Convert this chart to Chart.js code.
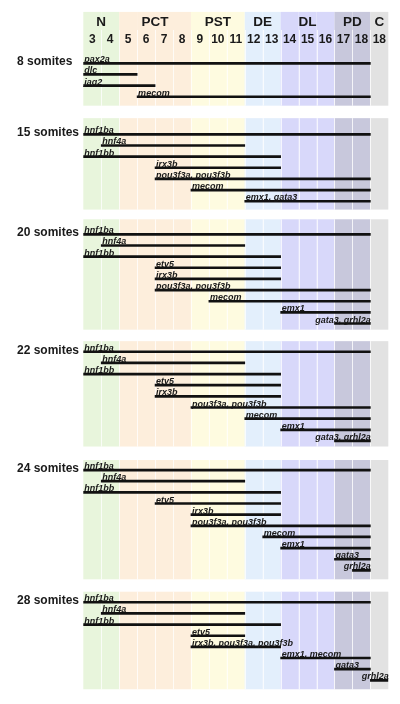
<!DOCTYPE html>
<html>
<head>
<meta charset="utf-8">
<script src="https://cdn.jsdelivr.net/npm/chart.js@4/dist/chart.umd.min.js"></script>
<style>
  html, body { margin:0; padding:0; background:#fff; }
  #wrap { position:relative; width:400px; height:704px; }
</style>
</head>
<body>
<div id="wrap"><canvas id="c" width="400" height="704"></canvas></div>
<script>
// segment groups across the top, and the somite column under each
var GROUPS = ['N','PCT','PST','DE','DL','PD','C'];
var GROUP_SPAN = [2,4,3,2,3,2,1];
var GROUP_COLOR = ['#e8f5dc','#fdeedc','#fefbe0','#e3effc','#d8d8fa','#c8c8dc','#e2e2e2'];
var COLS = ['3','4','5','6','7','8','9','10','11','12','13','14','15','16','17','18','18'];

var STAGES = ['8 somites','15 somites','20 somites','22 somites','24 somites','28 somites'];

// gene name, first column boundary, last column boundary
var S8_GENES = ['pax2a','dlc','jag2','mecom'];
var S8_FROM  = [0,0,0,3];
var S8_TO    = [16,3,4,16];

var S15_GENES = ['hnf1ba','hnf4a','hnf1bb','irx3b','pou3f3a, pou3f3b','mecom','emx1, gata3'];
var S15_FROM  = [0,1,0,4,4,6,9];
var S15_TO    = [16,9,11,11,16,16,16];

var S20_GENES = ['hnf1ba','hnf4a','hnf1bb','etv5','irx3b','pou3f3a, pou3f3b','mecom','emx1','gata3, grhl2a'];
var S20_FROM  = [0,1,0,4,4,4,7,11,14];
var S20_TO    = [16,9,11,11,11,16,16,16,16];

var S22_GENES = ['hnf1ba','hnf4a','hnf1bb','etv5','irx3b','pou3f3a, pou3f3b','mecom','emx1','gata3, grhl2a'];
var S22_FROM  = [0,1,0,4,4,6,9,11,14];
var S22_TO    = [16,9,11,11,11,16,16,16,16];

var S24_GENES = ['hnf1ba','hnf4a','hnf1bb','etv5','irx3b','pou3f3a, pou3f3b','mecom','emx1','gata3','grhl2a'];
var S24_FROM  = [0,1,0,4,6,6,10,11,14,15];
var S24_TO    = [16,9,11,11,11,16,16,16,16,16];

var S28_GENES = ['hnf1ba','hnf4a','hnf1bb','etv5','irx3b, pou3f3a, pou3f3b','emx1, mecom','gata3','grhl2a'];
var S28_FROM  = [0,1,0,6,6,11,14,16];
var S28_TO    = [16,9,11,9,11,16,16,17];

var GENES = [S8_GENES,S15_GENES,S20_GENES,S22_GENES,S24_GENES,S28_GENES];
var FROM  = [S8_FROM,S15_FROM,S20_FROM,S22_FROM,S24_FROM,S28_FROM];
var TO    = [S8_TO,S15_TO,S20_TO,S22_TO,S24_TO,S28_TO];

// layout, in row units
var ROW_PX = 11.15, FIRST_Y = 63.3;
var GAP = [0, 2.37, 1.97, 1.53, 1.61, 1.86];
var PAD_TOP = [1.37, 1.45, 1.35, 0.95, 0.9, 0.95];
var PAD_BOT = [0.8, 0.75, 0.55, 0.5, 0.8, 0.8];
var HEAD_ROW = 1.62;
var FONT = '"Liberation Sans", Arial, Helvetica, sans-serif';

var colColor = [];
GROUPS.forEach(function(g, i){ for (var k=0;k<GROUP_SPAN[i];k++) colColor.push(GROUP_COLOR[i]); });

var rows = [], panels = [], r = 0;
GENES.forEach(function(list, s){
  r += GAP[s];
  var first = r;
  list.forEach(function(name, i){
    rows.push({x:[FROM[s][i], TO[s][i]], y:r, name:name, to:TO[s][i]});
    r += 1;
  });
  panels.push({first:first, last:r-1, label:STAGES[s], top:first-PAD_TOP[s], bot:r-1+PAD_BOT[s]});
});

var yMin = -FIRST_Y/ROW_PX, yMax = yMin + 704/ROW_PX;

var panelPlugin = {
  id:'panels',
  beforeDatasetsDraw:function(ch){
    var ctx = ch.ctx, xs = ch.scales.x, ys = ch.scales.y;
    function colRect(c, y0, y1, fill){
      var a = xs.getPixelForValue(c), b = xs.getPixelForValue(c+1);
      ctx.fillStyle = fill; ctx.fillRect(a, y0, b-a, y1-y0);
    }
    function seps(y0, y1){
      ctx.strokeStyle = 'rgba(255,255,255,0.75)'; ctx.lineWidth = 1;
      for (var c=1;c<COLS.length;c++){
        var x = Math.round(xs.getPixelForValue(c)) + 0.5;
        ctx.beginPath(); ctx.moveTo(x, y0); ctx.lineTo(x, y1); ctx.stroke();
      }
    }
    ctx.save();
    // header
    var p0 = panels[0];
    var hTop = ys.getPixelForValue(p0.top - 2*HEAD_ROW), hMid = ys.getPixelForValue(p0.top - HEAD_ROW), hBot = ys.getPixelForValue(p0.top);
    for (var c=0;c<COLS.length;c++) colRect(c, hTop, hBot, colColor[c]);
    seps(hMid, hBot);
    ctx.fillStyle = '#1a1a1a'; ctx.textAlign = 'center'; ctx.textBaseline = 'middle';
    ctx.font = 'bold 13.5px ' + FONT;
    var c0 = 0;
    GROUPS.forEach(function(g, i){
      var cx = (xs.getPixelForValue(c0) + xs.getPixelForValue(c0+GROUP_SPAN[i]))/2;
      ctx.fillText(g, cx, (hTop+hMid)/2 + 1);
      c0 += GROUP_SPAN[i];
    });
    ctx.font = 'bold 12px ' + FONT;
    COLS.forEach(function(lab, c){
      ctx.fillText(lab, xs.getPixelForValue(c+0.5), (hMid+hBot)/2 + 1);
    });
    // panels
    panels.forEach(function(p){
      var y0 = ys.getPixelForValue(p.top), y1 = ys.getPixelForValue(p.bot);
      for (var c=0;c<COLS.length;c++) colRect(c, y0, y1, colColor[c]);
      seps(y0, y1);
      ctx.fillStyle = '#1a1a1a'; ctx.textAlign = 'left'; ctx.textBaseline = 'alphabetic';
      ctx.font = 'bold 12px ' + FONT;
      ctx.fillText(p.label, 17, ys.getPixelForValue(p.first) + 2);
    });
    ctx.restore();
  },
  afterDatasetsDraw:function(ch){
    var ctx = ch.ctx, meta = ch.getDatasetMeta(0);
    ctx.save();
    ctx.font = 'italic bold 9px ' + FONT;
    ctx.fillStyle = '#1a1a1a'; ctx.textBaseline = 'alphabetic';
    meta.data.forEach(function(bar, i){
      var row = rows[i];
      var left = Math.min(bar.x, bar.base), right = Math.max(bar.x, bar.base);
      var w = ctx.measureText(row.name).width;
      if (w > right-left && row.to >= 16) { ctx.textAlign = 'right'; ctx.fillText(row.name, right+0.5, bar.y-1); }
      else { ctx.textAlign = 'left'; ctx.fillText(row.name, left+1, bar.y-1); }
    });
    ctx.restore();
  }
};

function pinY(s){ s.min = yMin; s.max = yMax; }

new Chart(document.getElementById('c'), {
  type:'bar',
  data:{datasets:[{data:rows, backgroundColor:'#111', borderWidth:0, barThickness:2, borderSkipped:false}]},
  options:{
    indexAxis:'y', responsive:false, animation:false,
    layout:{padding:{left:83.3, right:11.7, top:0, bottom:0}},
    parsing:{xAxisKey:'x', yAxisKey:'y'},
    scales:{
      x:{type:'linear', min:0, max:17, display:false, offset:false},
      y:{type:'linear', min:yMin, max:yMax, reverse:true, display:false, offset:false, bounds:'data', grace:0, afterBuildTicks:pinY}
    },
    plugins:{legend:{display:false}, tooltip:{enabled:false}}
  },
  plugins:[panelPlugin]
});
</script>
</body>
</html>
